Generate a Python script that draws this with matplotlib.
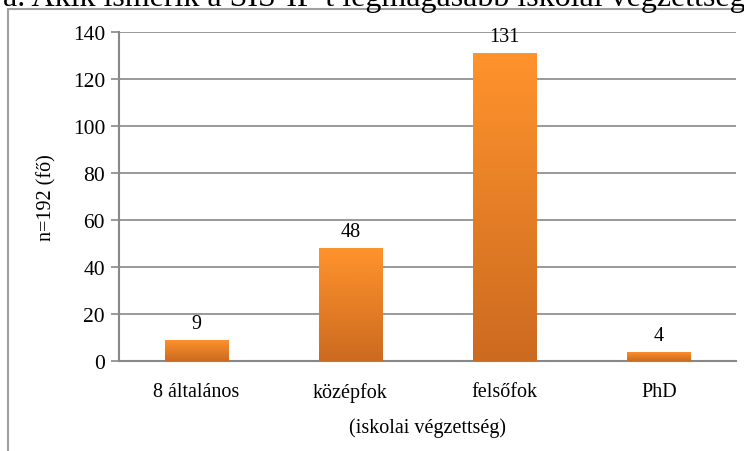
import matplotlib.pyplot as plt
import numpy as np
from matplotlib.patches import Rectangle

categories = ['8 általános', 'középfok', 'felsőfok', 'PhD']
values = [9, 48, 131, 4]
title = 'a. Akik ismerik a SIS-IP-t legmagasabb iskolai végzettsége'

plt.rcParams['font.family'] = ['Liberation Serif', 'DejaVu Serif']

fig = plt.figure(figsize=(7.44, 4.52), dpi=100)
W, H = 744, 452

# keret a diagram körül (jobb és alsó széle kilóg a képből)
fig.patches.append(Rectangle((8 / W, -0.1), 1.0, 1 - 10 / H + 0.1,
                             transform=fig.transFigure, fill=False,
                             edgecolor='#a0a0a0', linewidth=1.5))

# cím, felül levágva (mint az eredetin)
fig.text(3 / W, 1 - 6 / H, title, fontsize=23, va='baseline', ha='left')

ax = fig.add_axes([119 / W, 1 - 362 / H, (736 - 119) / W, (362 - 33) / H])
x = np.arange(len(categories))
bars = ax.bar(x, values, width=0.41, color='none', zorder=3)

# színátmenet minden oszlopra
grad = np.linspace(0, 1, 256).reshape(-1, 1)
cmap = plt.matplotlib.colors.LinearSegmentedColormap.from_list(
    'narancs', ['#cc6a20', '#ff932c'])
for b in bars:
    x0, y0 = b.get_x(), b.get_y()
    im = ax.imshow(grad, cmap=cmap, aspect='auto', origin='lower',
                   extent=[x0, x0 + b.get_width(), y0, y0 + b.get_height()],
                   zorder=3)
    im.set_clip_path(b)

for xi, v in zip(x, values):
    ax.annotate(str(v), (xi, v), xytext=(0, 5), textcoords='offset points',
                ha='center', va='bottom', fontsize=14.5)

ax.set_xlim(-0.5, len(categories) - 0.5)
ax.set_ylim(0, 140)
ax.set_yticks(range(0, 141, 20))
ax.set_xticks(x)
ax.set_xticklabels(categories, fontsize=14.5)
ax.tick_params(axis='y', labelsize=15.5, length=6, color='#888888', width=1.2, pad=4)
ax.tick_params(axis='x', length=0, pad=15)
ax.grid(axis='y', color='#888888', linewidth=1.2, zorder=0)
ax.set_axisbelow(True)
for s in ['top', 'right']:
    ax.spines[s].set_visible(False)
for s in ['left', 'bottom']:
    ax.spines[s].set_color('#888888')
    ax.spines[s].set_linewidth(1.5)

ax.set_xlabel('(iskolai végzettség)', fontsize=14.5, labelpad=11)
ax.set_ylabel('n=192 (fő)', fontsize=14.5, labelpad=12)

fig.savefig('out.png', dpi=100)
